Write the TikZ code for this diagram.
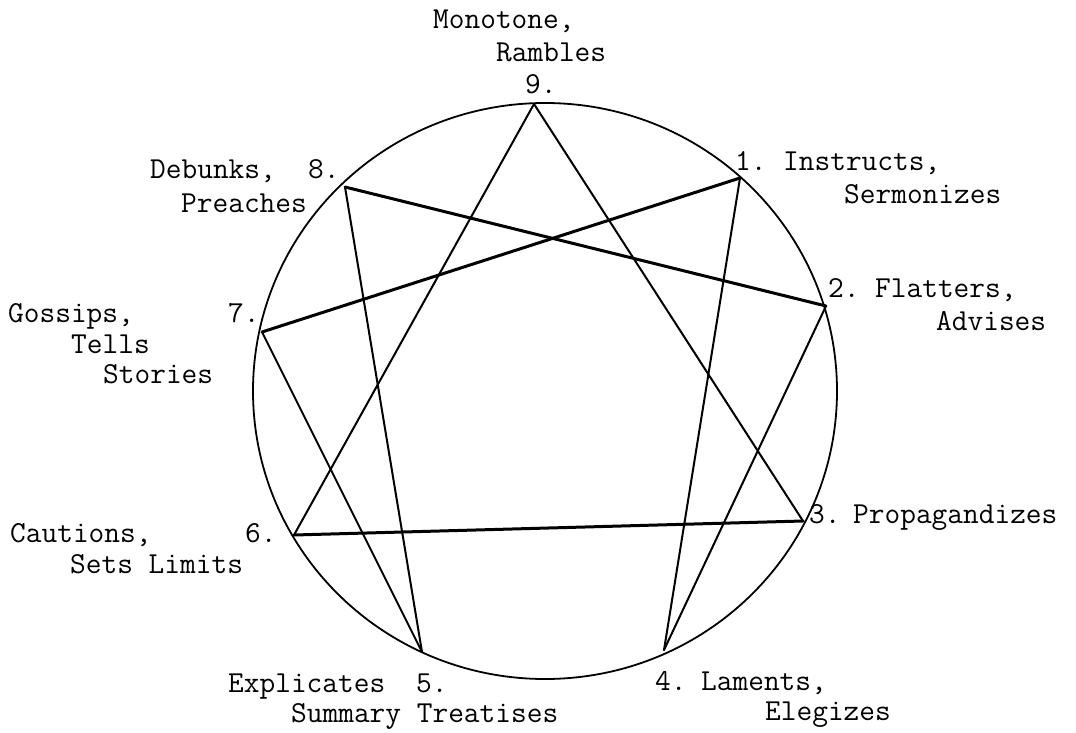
\documentclass[tikz,border=0pt]{standalone}
\begin{document}
\begin{tikzpicture}[x=1pt,y=-1pt,
  lbl/.style={anchor=base west,inner sep=0pt,font=\ttfamily\fontsize{30.5}{33}\selectfont},
  ring/.style={line width=1.8pt},
  thin/.style={line width=2pt,line cap=round,line join=round},
  thick/.style={line width=3pt,line cap=round,line join=round}]
\useasboundingbox (0,0) rectangle (1076,733);
\fill[white] (0,0) rectangle (1076,733);
% circle
\draw[ring] (545,391) ellipse [x radius=292pt, y radius=288pt];
% points
\coordinate (p9) at (534,104);
\coordinate (p1) at (740,178);
\coordinate (p2) at (826,306);
\coordinate (p3) at (803,521);
\coordinate (p4) at (664,650);
\coordinate (p5) at (422,652);
\coordinate (p6) at (294,535);
\coordinate (p7) at (262,332);
\coordinate (p8) at (345,187);
% triangle
\draw[thin] (p9) -- (p3);
\draw[thin] (p9) -- (p6);
\draw[thick] (p6) -- (p3);
% hexad
\draw[thin] (p1) -- (p4);
\draw[thin] (p4) -- (p2);
\draw[thick] (p2) -- (p8);
\draw[thin] (p8) -- (p5);
\draw[thin] (p5) -- (p7);
\draw[thick] (p7) -- (p1);
% labels
\node[lbl] (t9a) at (433,29) {Monotone,};
\node[lbl] (t9b) at (496,62) {Rambles};
\node[lbl] (n9) at (525,94) {9.};
\node[lbl] (n1) at (735,170) {1.};
\node[lbl] (t1a) at (783,170) {Instructs,};
\node[lbl] (t1b) at (844,203) {Sermonizes};
\node[lbl] (n2) at (828,297) {2.};
\node[lbl] (t2a) at (875,297) {Flatters,};
\node[lbl] (t2b) at (936,330) {Advises};
\node[lbl] (n3) at (809,523) {3.};
\node[lbl] (t3) at (853,523) {Propagandizes};
\node[lbl] (n4) at (655,690) {4.};
\node[lbl] (t4a) at (701,690) {Laments,};
\node[lbl] (t4b) at (765,720) {Elegizes};
\node[lbl] (t5a) at (228,692) {Explicates};
\node[lbl] (n5) at (416,692) {5.};
\node[lbl] (t5b) at (291,722) {Summary Treatises};
\node[lbl] (t6a) at (10,542) {Cautions,};
\node[lbl] (t6b) at (70,573) {Sets Limits};
\node[lbl] (n6) at (245,542) {6.};
\node[lbl] (t7a) at (8,322) {Gossips,};
\node[lbl] (t7b) at (71,353) {Tells};
\node[lbl] (t7c) at (103,383) {Stories};
\node[lbl] (n7) at (228,322) {7.};
\node[lbl] (t8a) at (150,178) {Debunks,};
\node[lbl] (n8) at (308,178) {8.};
\node[lbl] (t8b) at (181,212) {Preaches};
\end{tikzpicture}
\end{document}
